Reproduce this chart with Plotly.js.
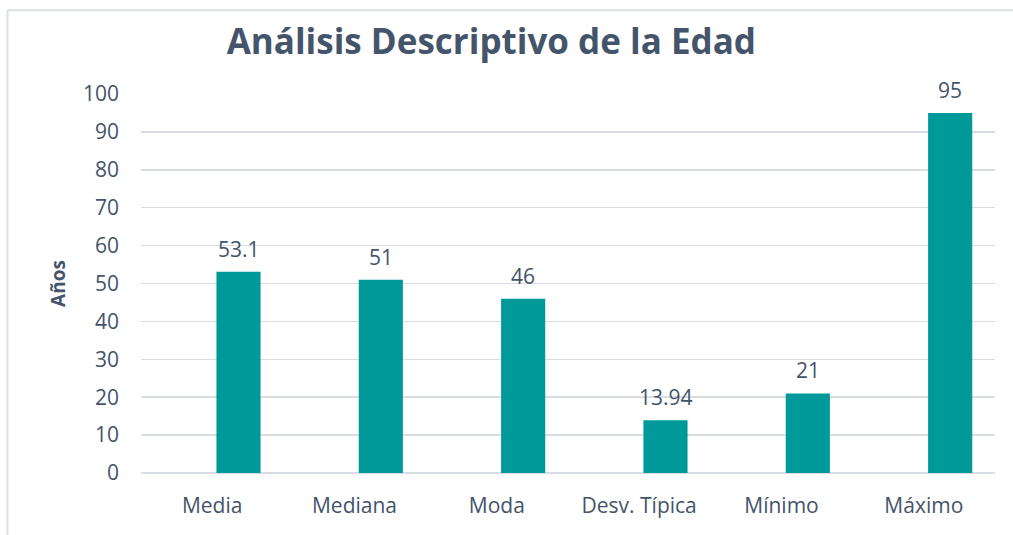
<!DOCTYPE html>
<html>
<head>
<meta charset="utf-8">
<script src="https://cdn.plot.ly/plotly-3.0.1.min.js"></script>
<style>
  html, body { margin: 0; padding: 0; background: #ffffff; }
  #chart { width: 1013px; height: 535px; }
</style>
</head>
<body>
<div id="chart"></div>
<script>
const categories = ["Media", "Mediana", "Moda", "Desv. Típica", "Mínimo", "Máximo"];
const values = [53.1, 51, 46, 13.94, 21, 95];
const valueLabels = ["53.1", "51", "46", "13.94", "21", "95"];
const yTicks = [0, 10, 20, 30, 40, 50, 60, 70, 80, 90, 100];

const textColor = "#44546A";
const barColor = "#009999";
const gridColor = "#D9DDE3";
const fontFamily = "'Open Sans', 'Noto Sans', sans-serif";

const barWidth = 0.31;
const barOffset = 0.03;

const trace = {
  type: "bar",
  x: categories,
  y: values,
  width: barWidth,
  offset: barOffset,
  marker: { color: barColor, line: { width: 0 } },
  hoverinfo: "x+y",
  cliponaxis: false
};

const annotations = categories.map((c, i) => ({
  x: i + barOffset + barWidth / 2,
  y: values[i],
  xref: "x",
  yref: "y",
  text: valueLabels[i],
  showarrow: false,
  yanchor: "bottom",
  yshift: 7,
  font: { family: fontFamily, size: 21, color: textColor }
}));

const layout = {
  width: 1013,
  height: 535,
  margin: { l: 141, r: 18, t: 93.5, b: 61.5 },
  paper_bgcolor: "#ffffff",
  plot_bgcolor: "#ffffff",
  showlegend: false,
  title: {
    text: "<b>Análisis Descriptivo de la Edad</b>",
    x: 0.485,
    xref: "container",
    xanchor: "center",
    y: 0.922,
    yref: "container",
    yanchor: "middle",
    font: { family: fontFamily, size: 35, color: textColor }
  },
  xaxis: {
    type: "category",
    range: [-0.5, categories.length - 0.5],
    showgrid: false,
    zeroline: false,
    showline: false,
    ticks: "",
    ticklabelstandoff: 18,
    tickfont: { family: fontFamily, size: 21, color: textColor }
  },
  yaxis: {
    range: [0, 100],
    tickvals: yTicks,
    ticktext: yTicks.map(String),
    showgrid: true,
    gridcolor: gridColor,
    gridwidth: 1.5,
    zeroline: true,
    zerolinecolor: gridColor,
    zerolinewidth: 1.5,
    showline: false,
    ticks: "",
    ticklabelstandoff: 21,
    tickfont: { family: fontFamily, size: 21, color: textColor },
    title: {
      text: "<b>Años</b>",
      standoff: 12,
      font: { family: fontFamily, size: 19, color: textColor }
    }
  },
  annotations: annotations,
  shapes: [
    {
      type: "line", xref: "paper", yref: "paper",
      x0: (7.5 - 141) / 854, x1: (1020 - 141) / 854,
      y0: (473.5 - 9.5) / 380, y1: (473.5 - 9.5) / 380,
      line: { color: "#D9DEE4", width: 2 }
    },
    {
      type: "line", xref: "paper", yref: "paper",
      x0: (7.5 - 141) / 854, x1: (7.5 - 141) / 854,
      y0: (473.5 - 9.5) / 380, y1: (473.5 - 545) / 380,
      line: { color: "#D9DEE4", width: 2 }
    }
  ]
};

Plotly.newPlot("chart", [trace], layout, { displayModeBar: false, staticPlot: true });
</script>
</body>
</html>
